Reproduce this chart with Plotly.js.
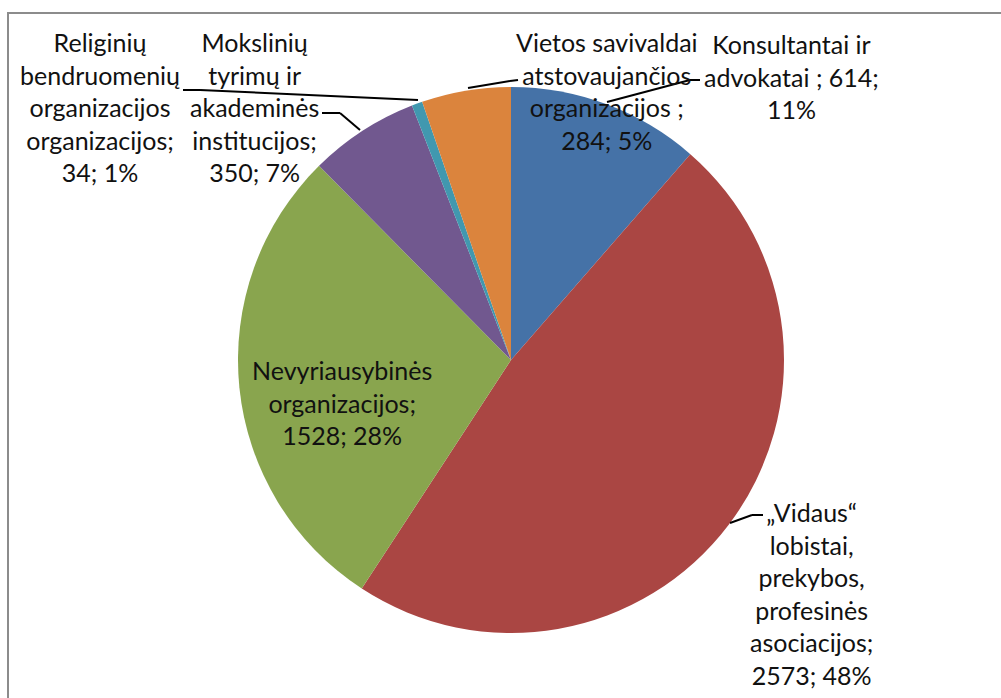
<!DOCTYPE html>
<html>
<head>
<meta charset="utf-8">
<script src="https://cdn.plot.ly/plotly-3.0.1.min.js"></script>
<style>html,body{margin:0;padding:0;background:#fff;}#chart{width:1001px;height:698px;}</style>
</head>
<body>
<div id="chart"></div>
<script>
// Data
const categories = [
  'Konsultantai ir advokatai',
  '„Vidaus“ lobistai, prekybos, profesinės asociacijos',
  'Nevyriausybinės organizacijos',
  'Mokslinių tyrimų ir akademinės institucijos',
  'Religinių bendruomenių organizacijos organizacijos',
  'Vietos savivaldai atstovaujančios organizacijos'
];
const values = [614, 2573, 1528, 350, 34, 284];
const percents = ['11%', '48%', '28%', '7%', '1%', '5%'];
const labelLines = [
  'Konsultantai ir<br>advokatai ; ',
  '„Vidaus“<br>lobistai,<br>prekybos,<br>profesinės<br>asociacijos;<br>',
  'Nevyriausybinės<br>organizacijos;<br>',
  'Mokslinių<br>tyrimų ir<br>akademinės<br>institucijos;<br>',
  'Religinių<br>bendruomenių<br>organizacijos<br>organizacijos;<br>',
  'Vietos savivaldai<br>atstovaujančios<br>organizacijos ;<br>'
];
const valPctSep = [';<br>', '; ', '; ', '; ', '; ', '; '];
const colors = ['#4572A7', '#AA4643', '#89A54E', '#71588F', '#4198AF', '#DB843D'];

// Layout helpers (pixel -> paper)
const W = 1001, H = 698;
const px = x => x / W;
const py = y => 1 - y / H;

const labelPos = [
  [791, 76], [811, 593], [342, 403], [255, 107], [100, 107], [607, 91]
];
const leaders = [
  [[700, 80], [690, 80], [607, 102]],
  [[763, 515], [752, 515], [730, 523]],
  null,
  [[322, 113], [340, 113], [360, 130]],
  [[183, 90], [200, 90], [418, 100]],
  [[468, 88], [510, 81], [518, 80]]
];

const fontFam = 'Lato, "Open Sans", sans-serif';
const annotations = categories.map((c, i) => ({
  xref: 'paper', yref: 'paper',
  x: px(labelPos[i][0]), y: py(labelPos[i][1]),
  xanchor: 'center', yanchor: 'middle', align: 'center',
  showarrow: false,
  text: labelLines[i] + values[i] + valPctSep[i] + percents[i],
  font: {family: fontFam, size: 25, color: '#111'}
}));

const shapes = [{
  type: 'rect', xref: 'paper', yref: 'paper',
  x0: px(8), y0: -0.2, x1: 1.2, y1: py(13),
  line: {color: '#8c8c8c', width: 2}, fillcolor: 'rgba(0,0,0,0)', layer: 'below'
}];
leaders.forEach(seg => {
  if (!seg) return;
  for (let k = 0; k < seg.length - 1; k++) {
    shapes.push({
      type: 'line', xref: 'paper', yref: 'paper',
      x0: px(seg[k][0]), y0: py(seg[k][1]), x1: px(seg[k+1][0]), y1: py(seg[k+1][1]),
      line: {color: '#000', width: 2}, layer: 'above'
    });
  }
});

const trace = {
  type: 'pie',
  labels: categories,
  values: values,
  sort: false,
  direction: 'clockwise',
  rotation: 0,
  textinfo: 'none',
  hoverinfo: 'label+value+percent',
  marker: {colors: colors, line: {width: 0}},
  domain: {x: [px(511 - 273), px(511 + 273)], y: [py(633), py(87)]},
  showlegend: false
};

const layout = {
  width: W, height: H,
  margin: {l: 0, r: 0, t: 0, b: 0},
  paper_bgcolor: '#fff',
  showlegend: false,
  annotations: annotations,
  shapes: shapes,
  font: {family: fontFam}
};

Plotly.newPlot('chart', [trace], layout, {displayModeBar: false, staticPlot: true});
</script>
</body>
</html>
